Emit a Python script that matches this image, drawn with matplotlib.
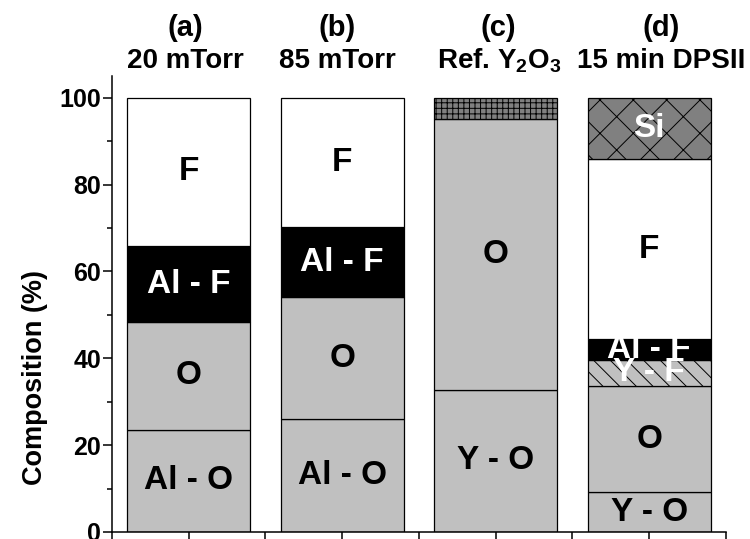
import matplotlib

matplotlib.use("Agg")
import matplotlib.pyplot as plt

plt.rcParams["font.family"] = ["Liberation Sans", "DejaVu Sans"]
plt.rcParams["font.weight"] = "bold"
plt.rcParams["mathtext.fontset"] = "custom"
plt.rcParams["mathtext.rm"] = "Liberation Sans:bold"
plt.rcParams["mathtext.it"] = "Liberation Sans:bold"
plt.rcParams["mathtext.bf"] = "Liberation Sans:bold"
plt.rcParams["hatch.linewidth"] = 0.7

# panel headings
PANELS = ["(a)", "(b)", "(c)", "(d)"]
CONDITIONS = ["20 mTorr", "85 mTorr", "Ref. Y$_2$O$_3$", "15 min DPSII"]

# stacked components, bottom to top (composition %)
A_PARTS = ["Al - O", "O", "Al - F", "F"]
A_VALUES = [23.6, 24.7, 17.5, 34.2]
B_PARTS = ["Al - O", "O", "Al - F", "F"]
B_VALUES = [26.1, 27.9, 16.2, 29.8]
C_PARTS = ["Y - O", "O", ""]
C_VALUES = [32.7, 62.3, 5.0]
D_PARTS = ["Y - O", "O", "Y - F", "Al - F", "F", "Si"]
D_VALUES = [9.1, 24.5, 6.1, 4.7, 41.4, 14.2]

BARS = [(A_PARTS, A_VALUES), (B_PARTS, B_VALUES),
        (C_PARTS, C_VALUES), (D_PARTS, D_VALUES)]

# face colour, hatch, label colour
STYLE = {
    "Al - O": ("#c0c0c0", None, "black"),
    "Y - O": ("#c0c0c0", None, "black"),
    "O": ("#c0c0c0", None, "black"),
    "Al - F": ("black", None, "white"),
    "F": ("white", None, "black"),
    "Y - F": ("#c0c0c0", "\\\\", "white"),
    "Si": ("#808080", "x", "white"),
    "": ("#808080", "+++", "black"),
}

# headings were placed by hand in the original, slightly off-centre
HEAD_X = [0.98, 1.97, 3.02, 4.08]

fig = plt.figure(figsize=(7.5, 5.39))
ax = fig.add_axes([0.149, 0.013, 0.819, 0.846])

for i, (parts, values) in enumerate(BARS):
    x = i + 1
    bottom = 0.0
    for name, val in zip(parts, values):
        face, hatch, tcol = STYLE[name]
        ax.bar(x, val, bottom=bottom, width=0.8, color=face,
               edgecolor="black", linewidth=0.9, hatch=hatch)
        if name:
            ax.text(x, bottom + val / 2, name, ha="center", va="center",
                    fontsize=24, color=tcol)
        bottom += val
    ax.text(HEAD_X[i], 114.2, PANELS[i], ha="center", va="baseline",
            fontsize=21, clip_on=False)
    ax.text(HEAD_X[i], 106.8, CONDITIONS[i], ha="center", va="baseline",
            fontsize=20, clip_on=False)

ax.set_xlim(0.5, 4.5)
ax.set_ylim(0, 105)
ax.set_xticks([1, 2, 3, 4])
ax.set_xticklabels([])
ax.set_xticks([0.5, 1.5, 2.5, 3.5, 4.5], minor=True)
ax.set_yticks([0, 20, 40, 60, 80, 100])
ax.set_yticks([10, 30, 50, 70, 90], minor=True)
ax.tick_params(axis="y", which="major", direction="out", length=6.5,
               width=1.1, labelsize=18, pad=1)
ax.tick_params(axis="y", which="minor", direction="out", length=3.6, width=1.1)
ax.tick_params(axis="x", which="both", direction="out", length=5, width=1.1)
for lab in ax.get_yticklabels():
    lab.set_fontweight("bold")

ax.spines["top"].set_visible(False)
ax.spines["right"].set_visible(False)
ax.spines["left"].set_linewidth(1.1)
ax.spines["bottom"].set_linewidth(1.1)

ax.set_ylabel("Composition (%)", fontsize=19.5, fontweight="bold")
ax.yaxis.set_label_coords(-0.104, 0.338)

fig.savefig("out.png", dpi=100)
plt.close(fig)
